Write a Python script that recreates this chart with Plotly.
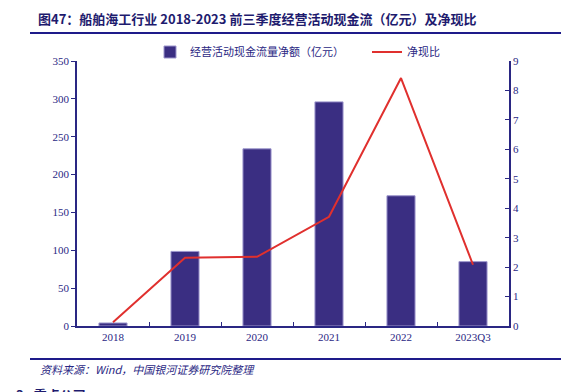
import plotly.graph_objects as go

categories = ["2018", "2019", "2020", "2021", "2022", "2023Q3"]
cash_flow = [4, 98.5, 234, 296, 172, 85]
ratio = [0.13, 2.32, 2.35, 3.71, 8.42, 2.08]
left_ticks = [0, 50, 100, 150, 200, 250, 300, 350]
right_ticks = [0, 1, 2, 3, 4, 5, 6, 7, 8, 9]

navy = "#2A2783"
serif = "Liberation Serif, Times New Roman, serif"
cjk = "Noto Sans CJK SC, sans-serif"

L, R, T, B = 77, 509, 61, 326
W, H = R - L, B - T


def px(x):
    return (x - L) / W


def py(y):
    return (B - y) / H


fig = go.Figure()
fig.add_trace(go.Bar(
    x=categories, y=cash_flow, name="经营活动现金流量净额（亿元）",
    marker=dict(color="#3A2E82", line=dict(color="#9C95CC", width=1)),
    width=0.39, yaxis="y",
))
fig.add_trace(go.Scatter(
    x=categories, y=ratio, name="净现比", mode="lines",
    line=dict(color="#E0302E", width=2), yaxis="y2",
))

fig.update_layout(
    width=561, height=392,
    margin=dict(l=L, r=561 - R, t=T, b=392 - B, autoexpand=False),
    paper_bgcolor="white", plot_bgcolor="white",
    showlegend=True,
    legend=dict(orientation="h", x=px(150), xanchor="left", y=py(52), yanchor="middle",
                font=dict(family=cjk, size=11, color=navy), bgcolor="rgba(0,0,0,0)",
                tracegroupgap=0, itemwidth=30, entrywidth=172, entrywidthmode="pixels"),
    xaxis=dict(type="category", showline=True, linecolor=navy, linewidth=1.5,
               ticks="inside", tickson="boundaries", ticklen=4, tickcolor=navy,
               tickfont=dict(family=serif, size=11, color=navy), showgrid=False,
               zeroline=False),
    yaxis=dict(range=[0, 350], tickvals=left_ticks, showline=True, linecolor=navy,
               linewidth=1.5, ticks="outside", ticklen=4, tickcolor=navy,
               tickfont=dict(family=serif, size=11, color=navy), showgrid=False,
               zeroline=False),
    yaxis2=dict(range=[0, 9], tickvals=right_ticks, overlaying="y", side="right",
                showline=True, linecolor=navy, linewidth=1.5, ticks="inside",
                ticklen=4, tickcolor=navy,
                tickfont=dict(family=serif, size=11, color=navy), showgrid=False,
                zeroline=False),
)

fig.add_annotation(text="<b>图47：船舶海工行业 2018-2023 前三季度经营活动现金流（亿元）及净现比</b>",
                   xref="paper", yref="paper", x=px(36), y=py(18),
                   xanchor="left", yanchor="middle", showarrow=False,
                   font=dict(family=cjk, size=13, color="#1E1B6E"))
fig.add_annotation(text="<i>资料来源：Wind，中国银河证券研究院整理</i>",
                   xref="paper", yref="paper", x=px(38), y=py(369),
                   xanchor="left", yanchor="middle", showarrow=False,
                   font=dict(family=cjk, size=11, color="#2A2783"))
fig.add_annotation(text="<b>3.  重点公司</b>",
                   xref="paper", yref="paper", x=px(14), y=py(394),
                   xanchor="left", yanchor="middle", showarrow=False,
                   font=dict(family=cjk, size=13, color="#1E1B6E"))

fig.add_shape(type="line", xref="paper", yref="paper",
              x0=px(30), x1=px(561), y0=py(33), y1=py(33),
              line=dict(color="#1E1B8A", width=2))
fig.add_shape(type="line", xref="paper", yref="paper",
              x0=px(30), x1=px(561), y0=py(359), y1=py(359),
              line=dict(color="#1E1B8A", width=2))

fig.write_html("out.html", config={"displayModeBar": False},
               post_script="document.body.style.margin='0';document.body.style.overflow='hidden';")
